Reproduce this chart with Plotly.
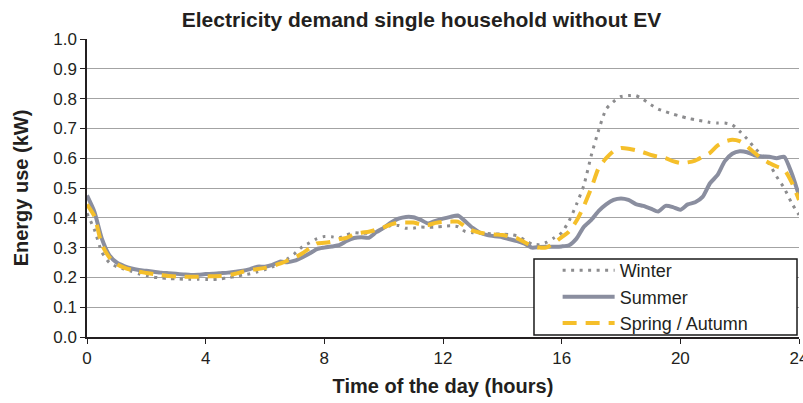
import plotly.graph_objects as go

# Time of day in quarter-hour steps
hours = [i * 0.25 for i in range(97)]

winter = [
    0.415, 0.36, 0.285, 0.25, 0.236, 0.228, 0.22, 0.212, 0.206, 0.201, 0.198, 0.196,
    0.195, 0.194, 0.194, 0.194, 0.193, 0.193, 0.195, 0.199, 0.203, 0.208, 0.212, 0.219,
    0.226, 0.235, 0.248, 0.262, 0.28, 0.302, 0.316, 0.33, 0.337, 0.336, 0.333, 0.343,
    0.35, 0.348, 0.349, 0.354, 0.365, 0.374, 0.374, 0.365, 0.365, 0.369, 0.368, 0.369,
    0.371, 0.373, 0.37, 0.354, 0.35, 0.348, 0.347, 0.346, 0.345, 0.344, 0.339, 0.326,
    0.312, 0.31, 0.318, 0.333, 0.35, 0.39, 0.445, 0.51, 0.61, 0.695, 0.765, 0.79,
    0.807, 0.81, 0.81, 0.797, 0.78, 0.765, 0.756, 0.748, 0.741, 0.734, 0.729, 0.725,
    0.72, 0.718, 0.718, 0.712, 0.69, 0.665, 0.635, 0.61, 0.58, 0.538, 0.5, 0.45,
    0.41,
]

summer = [
    0.475, 0.42, 0.33, 0.275, 0.25, 0.238, 0.23, 0.225, 0.222, 0.219, 0.216, 0.214,
    0.212, 0.21, 0.208, 0.209, 0.211, 0.212, 0.214, 0.216, 0.219, 0.222, 0.228, 0.236,
    0.236, 0.242, 0.253, 0.251, 0.256, 0.267, 0.28, 0.295, 0.3, 0.304, 0.308, 0.322,
    0.332, 0.335, 0.333, 0.352, 0.366, 0.384, 0.397, 0.403, 0.402, 0.393, 0.381, 0.39,
    0.397, 0.403, 0.408, 0.388, 0.366, 0.35, 0.342, 0.338, 0.335, 0.328, 0.322, 0.313,
    0.3, 0.302, 0.303, 0.303, 0.304, 0.308, 0.33, 0.37, 0.393, 0.423, 0.445, 0.46,
    0.465, 0.46, 0.446, 0.44, 0.431, 0.421, 0.44, 0.436, 0.427, 0.445, 0.452, 0.47,
    0.516, 0.543, 0.59, 0.615, 0.623, 0.62, 0.61, 0.606, 0.605, 0.6, 0.605, 0.55,
    0.475,
]

spring_autumn = [
    0.445, 0.405, 0.31, 0.268, 0.245, 0.233, 0.225, 0.219, 0.215, 0.211, 0.208, 0.205,
    0.203, 0.202, 0.202, 0.202, 0.203, 0.204, 0.205, 0.207, 0.212, 0.219, 0.225, 0.228,
    0.232, 0.238, 0.246, 0.256, 0.266, 0.28, 0.298, 0.314, 0.316, 0.32, 0.328, 0.333,
    0.345, 0.35, 0.353, 0.36, 0.368, 0.378, 0.384, 0.384, 0.384, 0.378, 0.376, 0.383,
    0.386, 0.387, 0.387, 0.37, 0.357, 0.35, 0.346, 0.344, 0.342, 0.337, 0.331, 0.318,
    0.306, 0.3, 0.301, 0.316, 0.335, 0.354, 0.39, 0.44, 0.5, 0.568, 0.6, 0.624,
    0.634, 0.632, 0.627, 0.62, 0.611, 0.605, 0.6, 0.59, 0.584, 0.586, 0.592, 0.605,
    0.618, 0.642, 0.656, 0.662, 0.657, 0.64, 0.618, 0.598, 0.584, 0.572, 0.562, 0.52,
    0.46,
]

x_ticks = [0, 4, 8, 12, 16, 20, 24]
y_ticks = [round(0.1 * i, 1) for i in range(11)]

FONT = "Liberation Sans, Arial, sans-serif"
TEXT = "#231f20"

fig = go.Figure()
fig.add_trace(go.Scatter(
    x=hours, y=winter, name="Winter", mode="lines",
    line=dict(color="#8c8c8e", width=3, dash="3px,5.5px", shape="spline", smoothing=0.6),
))
fig.add_trace(go.Scatter(
    x=hours, y=summer, name="Summer", mode="lines",
    line=dict(color="#8a8e9f", width=4, shape="spline", smoothing=0.6),
))
fig.add_trace(go.Scatter(
    x=hours, y=spring_autumn, name="Spring / Autumn", mode="lines",
    line=dict(color="#f5bf2a", width=4, dash="14px,9px", shape="spline", smoothing=0.6),
))

# Legend frame: white box with a dark border behind the legend entries
fig.add_shape(
    type="rect", xref="paper", yref="paper",
    x0=0.6278, x1=0.9972, y0=0.0067, y1=0.2617,
    fillcolor="white", line=dict(color="#1a1a1a", width=1.5), layer="above",
)

fig.update_layout(
    width=803, height=403,
    margin=dict(l=87, r=4, t=39, b=66, autoexpand=False),
    paper_bgcolor="white", plot_bgcolor="white",
    font=dict(family=FONT, color=TEXT, size=17),
    title=dict(
        text="<b>Electricity demand single household without EV</b>",
        x=0.525, xanchor="center", y=0.952, yanchor="middle",
        font=dict(size=21, color=TEXT),
    ),
    showlegend=True,
    legend=dict(
        x=0.661, y=0.285, xanchor="left", yanchor="top",
        bgcolor="rgba(0,0,0,0)", borderwidth=0,
        font=dict(size=18, color=TEXT),
        itemwidth=52, tracegroupgap=0,
    ),
)

fig.update_xaxes(
    range=[0, 24], tickvals=x_ticks, ticktext=[str(v) for v in x_ticks],
    showgrid=False, zeroline=False, automargin=False,
    showline=True, linecolor="#231f20", linewidth=1.5,
    ticks="outside", ticklen=5, tickcolor="#231f20", tickwidth=1.3,
    tickfont=dict(size=17), ticklabeloverflow="allow",
    title=dict(text="<b>Time of the day (hours)</b>", font=dict(size=20), standoff=12),
)
fig.update_yaxes(
    range=[0, 1.0], tickvals=y_ticks, tickformat=".1f",
    showgrid=True, gridcolor="#a3a3a3", gridwidth=1.3, zeroline=False, automargin=False,
    showline=True, linecolor="#231f20", linewidth=1.5,
    ticks="outside", ticklen=5, tickcolor="#231f20", tickwidth=1.3,
    tickfont=dict(size=17),
    title=dict(text="<b>Energy use (kW)</b>", font=dict(size=20), standoff=19),
)

fig.write_html("out.html")
